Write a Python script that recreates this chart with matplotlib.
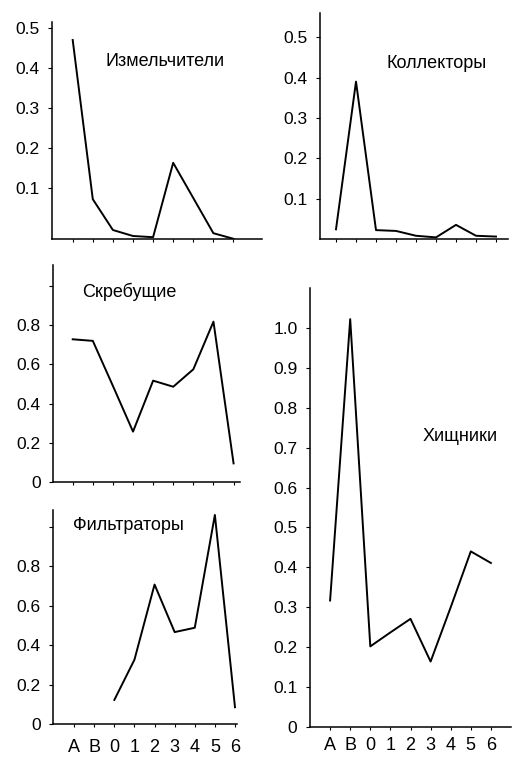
import numpy as np
import matplotlib
matplotlib.use("Agg")
import matplotlib.pyplot as plt

plt.rcParams['font.family'] = ['Liberation Sans', 'DejaVu Sans']

W, H = 513, 757

cats = ['A', 'B', '0', '1', '2', '3', '4', '5', '6']
shredders = [0.47, 0.072, -0.005, -0.02, -0.023, 0.163, 0.075, -0.013, -0.027]
collectors = [0.024, 0.39, 0.022, 0.02, 0.008, 0.004, 0.035, 0.008, 0.006]
scrapers = [0.728, 0.72, 0.49, 0.257, 0.517, 0.486, 0.575, 0.818, 0.095]
filterers = [np.nan, np.nan, 0.122, 0.326, 0.707, 0.466, 0.488, 1.06, 0.085]
predators = [0.317, 1.022, 0.202, 0.237, 0.271, 0.164, 0.30, 0.44, 0.411]

fig = plt.figure(figsize=(W / 100, H / 100), dpi=100)


def px_axes(x0, x1, ytop, ybot):
    return fig.add_axes([x0 / W, 1 - ybot / H, (x1 - x0) / W, (ybot - ytop) / H])


# (title, values, axes box px, xlim, ylim, yticks, ylabels, x label pad or None, title pos px)
panels = [
    ("Измельчители", shredders, (52, 262, 22, 239), (-1.03, 9.42), (-0.0275, 0.515),
     [0.1, 0.2, 0.3, 0.4, 0.5], ['0.1', '0.2', '0.3', '0.4', '0.5'], None, (165, 62)),
    ("Коллекторы", collectors, (320, 508, 13, 239), (-0.8, 8.6), (0, 0.56),
     [0.1, 0.2, 0.3, 0.4, 0.5], ['0.1', '0.2', '0.3', '0.4', '0.5'], None, (437, 63)),
    ("Скребущие", scrapers, (53, 240, 265, 482), (-0.98, 8.32), (0, 1.107),
     [0, 0.2, 0.4, 0.6, 0.8, 1.0], ['0', '0.2', '0.4', '0.6', '0.8', ''], None, (129, 292)),
    ("Фильтраторы", filterers, (53, 237, 510, 724), (-1.05, 8.1), (0, 1.085),
     [0, 0.2, 0.4, 0.6, 0.8, 1.0], ['0', '0.2', '0.4', '0.6', '0.8', ''], 8, (128, 525)),
    ("Хищники", predators, (310, 511, 288, 727), (-1.0, 9.0), (0, 1.10),
     [0, 0.1, 0.2, 0.3, 0.4, 0.5, 0.6, 0.7, 0.8, 0.9, 1.0],
     ['0', '0.1', '0.2', '0.3', '0.4', '0.5', '0.6', '0.7', '0.8', '0.9', '1.0'], 4.5, (460, 436)),
]

x = np.arange(len(cats))
for title, vals, box, xl, yl, yt, ylab, xpad, tpos in panels:
    ax = px_axes(*box)
    ax.plot(x, vals, color='black', lw=1.4)
    ax.set_xlim(*xl)
    ax.set_ylim(*yl)
    ax.spines['top'].set_visible(False)
    ax.spines['right'].set_visible(False)
    for s in ('left', 'bottom'):
        ax.spines[s].set_linewidth(1.1)
    ax.set_yticks(yt)
    ax.set_yticklabels(ylab)
    ax.set_xticks(x)
    if xpad is not None:
        ax.set_xticklabels(cats)
    else:
        ax.set_xticklabels([])
        xpad = 4
    ax.tick_params(axis='y', direction='out', length=3, width=0.8, labelsize=12.5, pad=6)
    ax.tick_params(axis='x', direction='out', length=2.5, width=0.8, labelsize=13, pad=xpad)
    fig.text(tpos[0] / W, 1 - tpos[1] / H, title, ha='center', va='center', fontsize=13)

fig.savefig('out.png', dpi=100)
